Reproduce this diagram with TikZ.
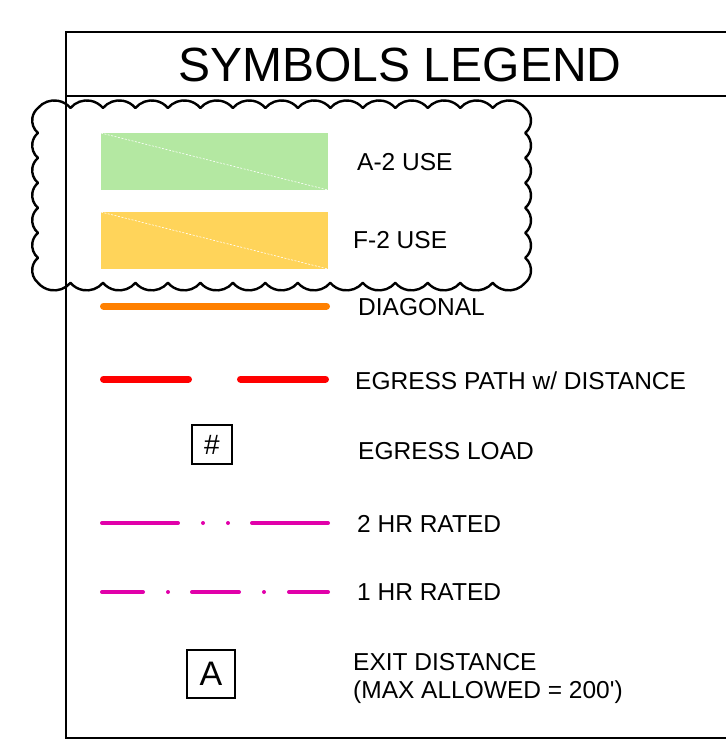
\documentclass[tikz,border=0pt]{standalone}
\usepackage{fontspec}
\setmainfont{Liberation Sans}
\definecolor{usegreen}{RGB}{180,232,162}
\definecolor{useyellow}{RGB}{255,212,90}
\definecolor{diagorange}{RGB}{255,128,0}
\definecolor{egressred}{RGB}{255,0,0}
\definecolor{ratedpink}{RGB}{225,0,170}

\begin{document}
\begin{tikzpicture}[x=1pt, y=1pt,
    legendtext/.style={anchor=base west, inner sep=0pt, font=\fontsize{24.5}{28}\selectfont},
    diagdash/.style={white, line width=0.6pt, dash pattern=on 2pt off 1.5pt},
    symbox/.style={draw, line width=1.6pt, inner sep=0pt},
    cloudline/.style={line width=2.4pt, line join=round}]
    \useasboundingbox (0,0) rectangle (726,-740);

    % Frame and title
    \draw[line width=1.2pt] (726,-32) -- (66,-32) -- (66,-738) -- (726,-738);
    \draw[line width=1.2pt] (66,-96) -- (726,-96);
    \node[inner sep=0pt, font=\fontsize{48}{56}\selectfont] (title) at (400,-65) {SYMBOLS LEGEND};

    % Use areas
    \fill[usegreen] (101,-133) rectangle (328,-190);
    \draw[diagdash] (101,-133) -- (328,-190);
    \node[legendtext] (a2lbl) at (357,-170.8) {A-2 USE};
    \fill[useyellow] (101,-212) rectangle (328,-269);
    \draw[diagdash] (101,-212) -- (328,-269);
    \node[legendtext] (f2lbl) at (353,-248.8) {F-2 USE};

    % Cloud
    \draw[cloudline] (38,-108)
        \foreach \i in {1,...,15}{ arc[start angle=140, end angle=40, radius=21.2] }
        \foreach \i in {1,...,7}{ arc[start angle=50, end angle=-50, radius=16.3] }
        \foreach \i in {1,...,15}{ arc[start angle=-40, end angle=-140, radius=21.2] }
        \foreach \i in {1,...,7}{ arc[start angle=230, end angle=130, radius=16.3] }
        -- cycle;

    % Lines
    \draw[diagorange, line width=7pt, line cap=round] (103.5,-306) -- (326.5,-306);
    \node[legendtext] (diaglbl) at (358,-315.2) {DIAGONAL};
    \draw[egressred, line width=7pt, line cap=round, dash pattern=on 85pt off 52pt] (103.5,-379) -- (326.5,-379);
    \node[legendtext] (egresslbl) at (355,-389.2) {EGRESS PATH w/ DISTANCE};

    % Egress load
    \node[symbox, minimum width=40pt, minimum height=39pt, font=\fontsize{28}{32}\selectfont] (loadbox) at (212,-444.5) {\#};
    \node[legendtext] (loadlbl) at (358,-459.2) {EGRESS LOAD};

    % Rated walls
    \draw[ratedpink, line width=4pt, line cap=round, dash pattern=on 76pt off 25pt on 0pt off 25pt on 0pt off 24pt] (102,-523) -- (328,-523);
    \node[legendtext] (hr2lbl) at (357,-532.8) {2 HR RATED};
    \draw[ratedpink, line width=4pt, line cap=round, dash pattern=on 41pt off 25pt on 0pt off 24pt on 47pt off 25pt on 0pt off 25pt] (102,-592) -- (328,-592);
    \node[legendtext] (hr1lbl) at (357,-600.2) {1 HR RATED};

    % Exit distance
    \node[symbox, minimum width=48pt, minimum height=48pt, font=\fontsize{34}{40}\selectfont] (exitbox) at (211,-674) {A};
    \node[legendtext, anchor=west, align=left] (exitlbl) at (353,-678) {EXIT DISTANCE\\(MAX ALLOWED = 200\textquotesingle)};
\end{tikzpicture}
\end{document}
